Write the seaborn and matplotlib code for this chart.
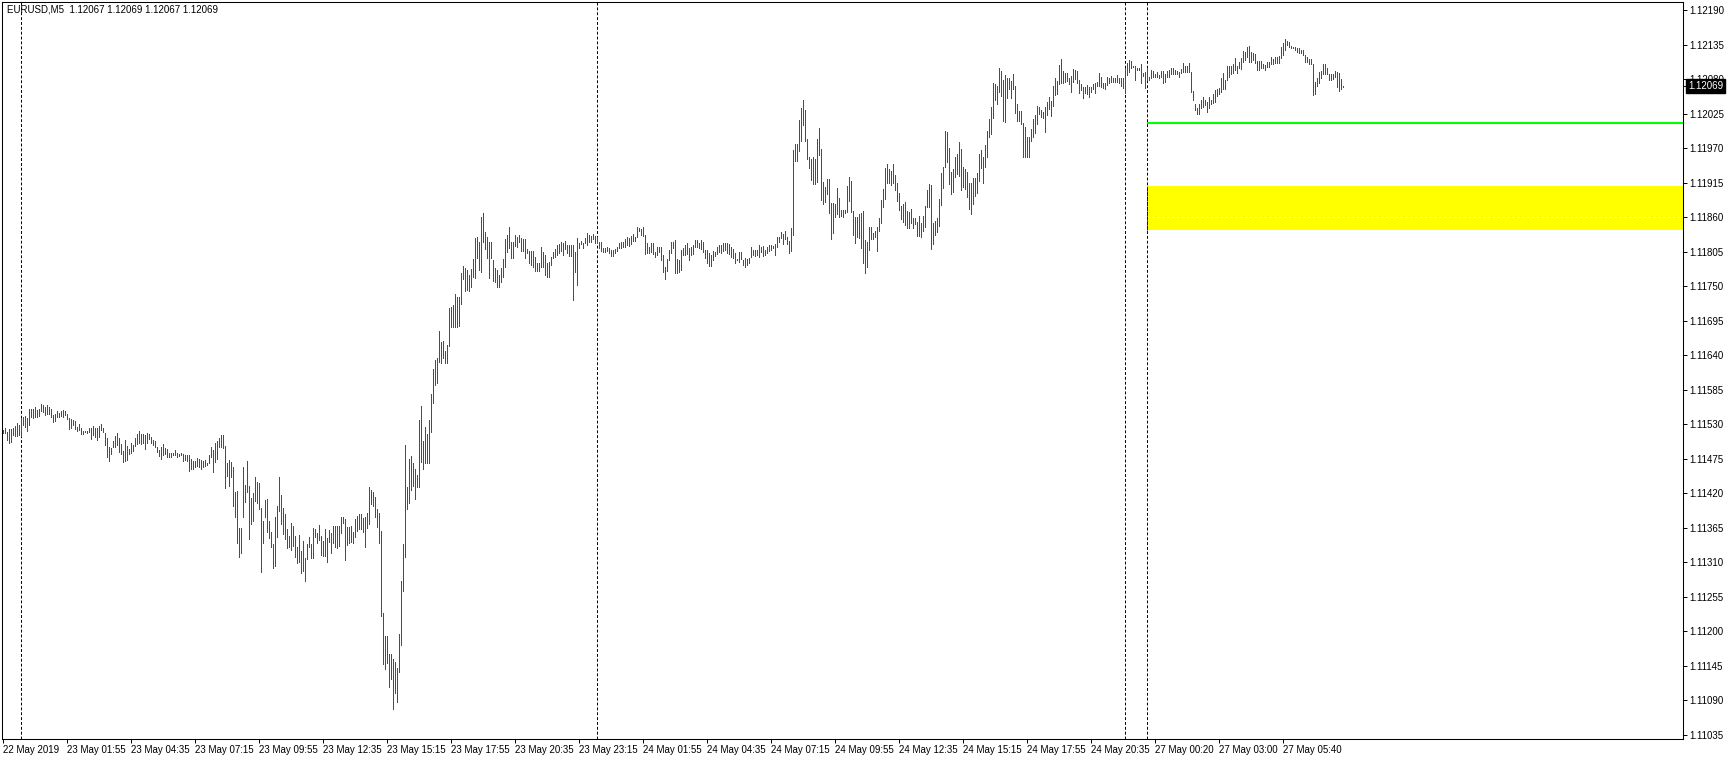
import numpy as np
import pandas as pd
import matplotlib
matplotlib.use("Agg")
import matplotlib.pyplot as plt
import seaborn as sns

# EURUSD M5 bars (high / low), one value per bar
bar_high = [
    1.11521, 1.11524, 1.11518, 1.11522, 1.11522, 1.11524, 1.11527, 1.11532, 1.11529, 1.11540,
    1.11542, 1.11543, 1.11540, 1.11554, 1.11554, 1.11554, 1.11557, 1.11553, 1.11554, 1.11562,
    1.11561, 1.11557, 1.11561, 1.11557, 1.11554, 1.11545, 1.11546, 1.11551, 1.11548, 1.11551,
    1.11553, 1.11551, 1.11546, 1.11540, 1.11538, 1.11537, 1.11535, 1.11526, 1.11530, 1.11524,
    1.11519, 1.11519, 1.11519, 1.11524, 1.11524, 1.11527, 1.11524, 1.11524, 1.11527, 1.11530,
    1.11524, 1.11516, 1.11508, 1.11494, 1.11492, 1.11503, 1.11511, 1.11516, 1.11508, 1.11499,
    1.11487, 1.11505, 1.11495, 1.11491, 1.11500, 1.11497, 1.11508, 1.11515, 1.11519, 1.11515,
    1.11515, 1.11513, 1.11516, 1.11515, 1.11510, 1.11505, 1.11503, 1.11494, 1.11489, 1.11494,
    1.11499, 1.11492, 1.11491, 1.11484, 1.11484, 1.11484, 1.11489, 1.11484, 1.11483, 1.11484,
    1.11483, 1.11481, 1.11481, 1.11481, 1.11475, 1.11471, 1.11471, 1.11476, 1.11475, 1.11473,
    1.11471, 1.11473, 1.11468, 1.11481, 1.11494, 1.11489, 1.11500, 1.11503, 1.11508, 1.11513,
    1.11513, 1.11495, 1.11468, 1.11473, 1.11470, 1.11462, 1.11422, 1.11424, 1.11365, 1.11365,
    1.11462, 1.11433, 1.11471, 1.11432, 1.11413, 1.11421, 1.11446, 1.11438, 1.11436, 1.11397,
    1.11376, 1.11409, 1.11411, 1.11376, 1.11358, 1.11339, 1.11382, 1.11400, 1.11446, 1.11417,
    1.11397, 1.11387, 1.11363, 1.11352, 1.11373, 1.11368, 1.11352, 1.11334, 1.11354, 1.11328,
    1.11344, 1.11317, 1.11339, 1.11350, 1.11339, 1.11365, 1.11363, 1.11357, 1.11370, 1.11352,
    1.11344, 1.11363, 1.11349, 1.11362, 1.11357, 1.11368, 1.11368, 1.11368, 1.11368, 1.11382,
    1.11382, 1.11379, 1.11366, 1.11366, 1.11368, 1.11358, 1.11379, 1.11384, 1.11387, 1.11387,
    1.11381, 1.11382, 1.11389, 1.11430, 1.11425, 1.11422, 1.11414, 1.11395, 1.11389, 1.11360,
    1.11229, 1.11193, 1.11193, 1.11164, 1.11164, 1.11156, 1.11151, 1.11142, 1.11196, 1.11280,
    1.11339, 1.11497, 1.11430, 1.11475, 1.11479, 1.11468, 1.11459, 1.11449, 1.11537, 1.11559,
    1.11503, 1.11526, 1.11515, 1.11537, 1.11578, 1.11618, 1.11632, 1.11636, 1.11679, 1.11661,
    1.11663, 1.11647, 1.11656, 1.11715, 1.11717, 1.11720, 1.11738, 1.11733, 1.11733, 1.11771,
    1.11782, 1.11779, 1.11776, 1.11768, 1.11777, 1.11793, 1.11827, 1.11828, 1.11820, 1.11860,
    1.11867, 1.11836, 1.11828, 1.11820, 1.11820, 1.11792, 1.11779, 1.11776, 1.11768, 1.11779,
    1.11793, 1.11825, 1.11832, 1.11844, 1.11820, 1.11820, 1.11832, 1.11828, 1.11832, 1.11827,
    1.11825, 1.11825, 1.11809, 1.11806, 1.11806, 1.11806, 1.11797, 1.11787, 1.11787, 1.11812,
    1.11804, 1.11800, 1.11787, 1.11789, 1.11797, 1.11804, 1.11809, 1.11816, 1.11817, 1.11820,
    1.11819, 1.11822, 1.11816, 1.11816, 1.11816, 1.11816, 1.11804, 1.11827, 1.11819, 1.11822,
    1.11819, 1.11827, 1.11835, 1.11832, 1.11830, 1.11833, 1.11830, 1.11828, 1.11820, 1.11820,
    1.11811, 1.11811, 1.11812, 1.11811, 1.11808, 1.11808, 1.11809, 1.11812, 1.11819, 1.11820,
    1.11820, 1.11825, 1.11828, 1.11827, 1.11830, 1.11833, 1.11828, 1.11844, 1.11843, 1.11841,
    1.11844, 1.11832, 1.11819, 1.11812, 1.11819, 1.11819, 1.11804, 1.11812, 1.11812, 1.11812,
    1.11800, 1.11781, 1.11793, 1.11808, 1.11820, 1.11820, 1.11824, 1.11793, 1.11792, 1.11808,
    1.11811, 1.11816, 1.11819, 1.11811, 1.11812, 1.11816, 1.11824, 1.11824, 1.11819, 1.11824,
    1.11820, 1.11808, 1.11808, 1.11803, 1.11800, 1.11806, 1.11804, 1.11812, 1.11816, 1.11816,
    1.11819, 1.11819, 1.11819, 1.11817, 1.11812, 1.11809, 1.11803, 1.11793, 1.11804, 1.11804,
    1.11792, 1.11795, 1.11793, 1.11795, 1.11812, 1.11808, 1.11808, 1.11808, 1.11816, 1.11812,
    1.11814, 1.11808, 1.11812, 1.11816, 1.11816, 1.11814, 1.11817, 1.11828, 1.11828, 1.11836,
    1.11833, 1.11838, 1.11828, 1.11822, 1.11843, 1.11967, 1.11977, 1.11977, 1.12015, 1.12034,
    1.12047, 1.12031, 1.11985, 1.11956, 1.11953, 1.11956, 1.11953, 1.11985, 1.12002, 1.11969,
    1.11916, 1.11908, 1.11921, 1.11921, 1.11883, 1.11883, 1.11881, 1.11906, 1.11890, 1.11871,
    1.11871, 1.11871, 1.11910, 1.11924, 1.11918, 1.11870, 1.11860, 1.11860, 1.11865, 1.11867,
    1.11870, 1.11824, 1.11820, 1.11844, 1.11844, 1.11835, 1.11838, 1.11844, 1.11859, 1.11887,
    1.11905, 1.11938, 1.11945, 1.11937, 1.11934, 1.11945, 1.11927, 1.11914, 1.11898, 1.11878,
    1.11881, 1.11884, 1.11870, 1.11868, 1.11873, 1.11859, 1.11859, 1.11852, 1.11862, 1.11851,
    1.11862, 1.11878, 1.11903, 1.11913, 1.11911, 1.11851, 1.11854, 1.11859, 1.11889, 1.11930,
    1.11940, 1.11997, 1.11996, 1.11970, 1.11932, 1.11937, 1.11956, 1.11961, 1.11980, 1.11969,
    1.11940, 1.11937, 1.11932, 1.11914, 1.11914, 1.11922, 1.11922, 1.11930, 1.11961, 1.11967,
    1.11956, 1.11975, 1.11997, 1.12016, 1.12036, 1.12074, 1.12072, 1.12069, 1.12098, 1.12093,
    1.12079, 1.12087, 1.12082, 1.12082, 1.12077, 1.12088, 1.12069, 1.12040, 1.12029, 1.12029,
    1.12010, 1.12004, 1.11988, 1.11988, 1.12000, 1.12016, 1.12023, 1.12037, 1.12036, 1.12031,
    1.12028, 1.12036, 1.12044, 1.12051, 1.12045, 1.12069, 1.12082, 1.12077, 1.12102, 1.12112,
    1.12093, 1.12090, 1.12090, 1.12082, 1.12085, 1.12096, 1.12094, 1.12093, 1.12079, 1.12072,
    1.12067, 1.12067, 1.12071, 1.12067, 1.12067, 1.12072, 1.12074, 1.12075, 1.12090, 1.12083,
    1.12074, 1.12074, 1.12083, 1.12082, 1.12085, 1.12082, 1.12082, 1.12087, 1.12082, 1.12082,
    1.12082, 1.12098, 1.12106, 1.12110, 1.12109, 1.12101, 1.12101, 1.12098, 1.12098, 1.12104,
    1.12090, 1.12091, 1.12096, 1.12083, 1.12094, 1.12093, 1.12088, 1.12091, 1.12087, 1.12093,
    1.12093, 1.12088, 1.12093, 1.12094, 1.12098, 1.12098, 1.12094, 1.12093, 1.12091, 1.12096,
    1.12106, 1.12101, 1.12101, 1.12106, 1.12091, 1.12061, 1.12040, 1.12034, 1.12040, 1.12047,
    1.12051, 1.12047, 1.12043, 1.12051, 1.12047, 1.12056, 1.12063, 1.12064, 1.12066, 1.12082,
    1.12090, 1.12079, 1.12101, 1.12101, 1.12101, 1.12104, 1.12114, 1.12101, 1.12107, 1.12114,
    1.12125, 1.12123, 1.12131, 1.12133, 1.12123, 1.12122, 1.12120, 1.12109, 1.12109, 1.12109,
    1.12104, 1.12102, 1.12107, 1.12107, 1.12115, 1.12112, 1.12115, 1.12115, 1.12117, 1.12131,
    1.12137, 1.12144, 1.12141, 1.12139, 1.12133, 1.12131, 1.12131, 1.12130, 1.12130, 1.12126,
    1.12126, 1.12118, 1.12115, 1.12112, 1.12112, 1.12104, 1.12075, 1.12082, 1.12091, 1.12093,
    1.12104, 1.12104, 1.12098, 1.12088, 1.12088, 1.12088, 1.12093, 1.12091, 1.12090, 1.12080,
    1.12069,
]
bar_low = [
    1.11516, 1.11516, 1.11505, 1.11500, 1.11502, 1.11513, 1.11511, 1.11511, 1.11513, 1.11511,
    1.11529, 1.11526, 1.11519, 1.11529, 1.11542, 1.11540, 1.11542, 1.11542, 1.11543, 1.11551,
    1.11550, 1.11545, 1.11546, 1.11546, 1.11542, 1.11534, 1.11535, 1.11542, 1.11542, 1.11543,
    1.11542, 1.11545, 1.11538, 1.11522, 1.11524, 1.11529, 1.11522, 1.11519, 1.11521, 1.11515,
    1.11515, 1.11518, 1.11516, 1.11518, 1.11507, 1.11513, 1.11510, 1.11505, 1.11510, 1.11521,
    1.11518, 1.11497, 1.11478, 1.11471, 1.11483, 1.11494, 1.11494, 1.11497, 1.11486, 1.11483,
    1.11470, 1.11471, 1.11473, 1.11483, 1.11484, 1.11487, 1.11495, 1.11499, 1.11500, 1.11499,
    1.11500, 1.11491, 1.11500, 1.11507, 1.11500, 1.11497, 1.11494, 1.11486, 1.11480, 1.11475,
    1.11481, 1.11483, 1.11478, 1.11478, 1.11478, 1.11481, 1.11481, 1.11478, 1.11480, 1.11481,
    1.11471, 1.11473, 1.11471, 1.11456, 1.11459, 1.11459, 1.11462, 1.11463, 1.11462, 1.11459,
    1.11462, 1.11463, 1.11465, 1.11468, 1.11478, 1.11454, 1.11470, 1.11475, 1.11494, 1.11494,
    1.11492, 1.11428, 1.11448, 1.11432, 1.11446, 1.11400, 1.11382, 1.11341, 1.11319, 1.11325,
    1.11382, 1.11406, 1.11422, 1.11347, 1.11371, 1.11376, 1.11408, 1.11405, 1.11395, 1.11295,
    1.11341, 1.11382, 1.11358, 1.11349, 1.11334, 1.11301, 1.11304, 1.11350, 1.11392, 1.11371,
    1.11355, 1.11347, 1.11333, 1.11334, 1.11330, 1.11336, 1.11319, 1.11309, 1.11311, 1.11293,
    1.11296, 1.11280, 1.11315, 1.11334, 1.11317, 1.11317, 1.11350, 1.11341, 1.11346, 1.11322,
    1.11320, 1.11320, 1.11311, 1.11342, 1.11325, 1.11341, 1.11334, 1.11333, 1.11336, 1.11357,
    1.11373, 1.11314, 1.11338, 1.11341, 1.11342, 1.11341, 1.11350, 1.11360, 1.11363, 1.11363,
    1.11358, 1.11334, 1.11365, 1.11371, 1.11403, 1.11400, 1.11382, 1.11366, 1.11341, 1.11225,
    1.11148, 1.11140, 1.11150, 1.11111, 1.11124, 1.11076, 1.11102, 1.11088, 1.11135, 1.11178,
    1.11264, 1.11319, 1.11395, 1.11405, 1.11425, 1.11432, 1.11411, 1.11430, 1.11430, 1.11470,
    1.11459, 1.11468, 1.11468, 1.11468, 1.11518, 1.11564, 1.11593, 1.11596, 1.11629, 1.11628,
    1.11636, 1.11628, 1.11628, 1.11655, 1.11685, 1.11685, 1.11685, 1.11685, 1.11687, 1.11722,
    1.11761, 1.11742, 1.11744, 1.11742, 1.11749, 1.11765, 1.11763, 1.11795, 1.11776, 1.11773,
    1.11820, 1.11809, 1.11795, 1.11763, 1.11795, 1.11758, 1.11757, 1.11749, 1.11749, 1.11757,
    1.11765, 1.11781, 1.11804, 1.11811, 1.11795, 1.11795, 1.11814, 1.11812, 1.11820, 1.11806,
    1.11806, 1.11795, 1.11803, 1.11787, 1.11784, 1.11781, 1.11774, 1.11774, 1.11774, 1.11781,
    1.11781, 1.11768, 1.11765, 1.11765, 1.11784, 1.11795, 1.11797, 1.11800, 1.11803, 1.11806,
    1.11800, 1.11809, 1.11803, 1.11798, 1.11798, 1.11728, 1.11773, 1.11752, 1.11811, 1.11817,
    1.11811, 1.11819, 1.11816, 1.11820, 1.11820, 1.11825, 1.11819, 1.11820, 1.11811, 1.11806,
    1.11804, 1.11804, 1.11806, 1.11803, 1.11798, 1.11798, 1.11803, 1.11806, 1.11811, 1.11811,
    1.11812, 1.11812, 1.11816, 1.11814, 1.11817, 1.11822, 1.11822, 1.11828, 1.11838, 1.11832,
    1.11830, 1.11801, 1.11803, 1.11803, 1.11804, 1.11801, 1.11797, 1.11800, 1.11804, 1.11792,
    1.11773, 1.11761, 1.11774, 1.11792, 1.11803, 1.11811, 1.11771, 1.11771, 1.11773, 1.11776,
    1.11800, 1.11800, 1.11801, 1.11792, 1.11800, 1.11801, 1.11812, 1.11812, 1.11811, 1.11809,
    1.11804, 1.11795, 1.11787, 1.11782, 1.11782, 1.11792, 1.11798, 1.11801, 1.11804, 1.11803,
    1.11806, 1.11808, 1.11803, 1.11801, 1.11797, 1.11795, 1.11787, 1.11792, 1.11789, 1.11793,
    1.11784, 1.11781, 1.11784, 1.11787, 1.11797, 1.11800, 1.11798, 1.11800, 1.11797, 1.11804,
    1.11798, 1.11800, 1.11803, 1.11806, 1.11808, 1.11811, 1.11800, 1.11812, 1.11820, 1.11827,
    1.11817, 1.11825, 1.11817, 1.11803, 1.11806, 1.11832, 1.11949, 1.11949, 1.11965, 1.11981,
    1.12007, 1.11981, 1.11953, 1.11938, 1.11919, 1.11913, 1.11913, 1.11916, 1.11959, 1.11887,
    1.11881, 1.11884, 1.11897, 1.11867, 1.11825, 1.11835, 1.11860, 1.11865, 1.11860, 1.11862,
    1.11860, 1.11867, 1.11868, 1.11886, 1.11868, 1.11832, 1.11819, 1.11828, 1.11827, 1.11811,
    1.11787, 1.11771, 1.11781, 1.11808, 1.11825, 1.11825, 1.11828, 1.11806, 1.11838, 1.11851,
    1.11876, 1.11889, 1.11914, 1.11914, 1.11911, 1.11914, 1.11903, 1.11886, 1.11871, 1.11857,
    1.11852, 1.11848, 1.11843, 1.11843, 1.11851, 1.11843, 1.11849, 1.11830, 1.11830, 1.11828,
    1.11838, 1.11844, 1.11876, 1.11876, 1.11809, 1.11817, 1.11832, 1.11836, 1.11846, 1.11879,
    1.11906, 1.11940, 1.11948, 1.11913, 1.11897, 1.11900, 1.11924, 1.11929, 1.11926, 1.11903,
    1.11908, 1.11905, 1.11892, 1.11873, 1.11865, 1.11881, 1.11894, 1.11899, 1.11918, 1.11938,
    1.11914, 1.11940, 1.11956, 1.11988, 1.11992, 1.12018, 1.12047, 1.12040, 1.12059, 1.12053,
    1.12013, 1.12012, 1.12050, 1.12064, 1.12050, 1.12064, 1.12026, 1.12013, 1.12013, 1.12008,
    1.11956, 1.11956, 1.11956, 1.11956, 1.11981, 1.11988, 1.11994, 1.12008, 1.12024, 1.12020,
    1.12018, 1.11996, 1.12023, 1.12032, 1.12021, 1.12037, 1.12055, 1.12056, 1.12072, 1.12074,
    1.12074, 1.12075, 1.12077, 1.12072, 1.12059, 1.12075, 1.12080, 1.12074, 1.12058, 1.12063,
    1.12050, 1.12058, 1.12056, 1.12051, 1.12059, 1.12064, 1.12058, 1.12069, 1.12069, 1.12067,
    1.12066, 1.12064, 1.12071, 1.12074, 1.12075, 1.12075, 1.12075, 1.12075, 1.12074, 1.12069,
    1.12066, 1.12058, 1.12087, 1.12091, 1.12098, 1.12099, 1.12079, 1.12094, 1.12094, 1.12074,
    1.12085, 1.12066, 1.12079, 1.12079, 1.12082, 1.12083, 1.12083, 1.12083, 1.12082, 1.12083,
    1.12074, 1.12075, 1.12083, 1.12083, 1.12088, 1.12088, 1.12088, 1.12088, 1.12083, 1.12090,
    1.12091, 1.12091, 1.12091, 1.12091, 1.12059, 1.12047, 1.12031, 1.12024, 1.12024, 1.12034,
    1.12036, 1.12039, 1.12028, 1.12034, 1.12040, 1.12042, 1.12043, 1.12053, 1.12056, 1.12059,
    1.12064, 1.12064, 1.12079, 1.12083, 1.12088, 1.12090, 1.12094, 1.12090, 1.12098, 1.12096,
    1.12107, 1.12110, 1.12115, 1.12107, 1.12107, 1.12110, 1.12106, 1.12094, 1.12094, 1.12098,
    1.12098, 1.12094, 1.12099, 1.12099, 1.12104, 1.12104, 1.12106, 1.12106, 1.12106, 1.12114,
    1.12118, 1.12126, 1.12134, 1.12131, 1.12130, 1.12130, 1.12126, 1.12123, 1.12122, 1.12122,
    1.12118, 1.12107, 1.12107, 1.12104, 1.12104, 1.12055, 1.12056, 1.12069, 1.12074, 1.12082,
    1.12088, 1.12088, 1.12088, 1.12079, 1.12079, 1.12080, 1.12083, 1.12067, 1.12061, 1.12064,
    1.12067,
]

header = "EURUSD,M5  1.12067 1.12069 1.12067 1.12069"
last_price = 1.12069

# bar index of each time label on the bottom scale
time_ticks = [0, 32, 64, 96, 128, 160, 192, 224, 256, 288, 320,
              352, 384, 416, 448, 480, 512, 544, 576, 608, 640]
time_labels = ["22 May 2019", "23 May 01:55", "23 May 04:35", "23 May 07:15",
               "23 May 09:55", "23 May 12:35", "23 May 15:15", "23 May 17:55",
               "23 May 20:35", "23 May 23:15", "24 May 01:55", "24 May 04:35",
               "24 May 07:15", "24 May 09:55", "24 May 12:35", "24 May 15:15",
               "24 May 17:55", "24 May 20:35", "27 May 00:20", "27 May 03:00",
               "27 May 05:40"]

price_ticks = [1.12190, 1.12135, 1.12080, 1.12025, 1.11970, 1.11915, 1.11860,
               1.11805, 1.11750, 1.11695, 1.11640, 1.11585, 1.11530, 1.11475,
               1.11420, 1.11365, 1.11310, 1.11255, 1.11200, 1.11145, 1.11090,
               1.11035]

# period separators (bar index)
separators = [9, 297, 561, 572]

# objects drawn on the chart
level_start = 572
green_level = 1.12010
zone_top = 1.11910
zone_bottom = 1.11840
zone_mid = 1.11860

bars = pd.DataFrame({"bar": np.arange(len(bar_high)), "high": bar_high, "low": bar_low})
long = bars.melt(id_vars="bar", value_vars=["low", "high"], value_name="price")

sns.set_theme(style="white")
plt.rcParams["font.family"] = ["Liberation Sans", "DejaVu Sans"]

W, H = 1729, 760
fig = plt.figure(figsize=(W / 100, H / 100), dpi=100)
fig.patch.set_facecolor("white")
ax = fig.add_axes([2 / W, 21 / H, 1681 / W, 737 / H])
ax.set_facecolor("white")

x_right = 840
ax.fill_between([level_start, x_right], zone_bottom, zone_top, color="#ffff00", lw=0, zorder=1)
ax.hlines(zone_mid, level_start, x_right, color="white", lw=0.7, linestyles=(0, (3, 2)), zorder=2)
ax.hlines(green_level, level_start, x_right, color="#00ff00", lw=1.5, zorder=2)

for s in separators:
    ax.axvline(s, color="black", lw=0.7, linestyle=(0, (3, 2)), zorder=2)
ax.vlines(level_start, zone_bottom, zone_top, color="#0000ff", lw=0.7,
          linestyles=(0, (3, 2)), zorder=3)

sns.lineplot(data=long, x="bar", y="price", units="bar", estimator=None, sort=False,
             color="#ff0000", lw=0.68, antialiased=False, solid_capstyle="butt",
             legend=False, ax=ax, zorder=4)

ax.set_xlim(-0.5, x_right)
ax.set_ylim(1.1102846, 1.1220275)
ax.set_xlabel("")
ax.set_ylabel("")
ax.grid(False)

ax.yaxis.tick_right()
ax.set_yticks(price_ticks)
ax.set_yticklabels([f"{p:.5f}" for p in price_ticks])
ax.set_yticks([last_price], minor=True)
ax.tick_params(axis="y", which="both", direction="out", length=3, width=0.7,
               pad=1.5, labelsize=7, colors="black", right=True, left=False)

ax.set_xticks(time_ticks)
ax.set_xticklabels(time_labels, ha="left")
ax.tick_params(axis="x", direction="out", length=3, width=0.7, pad=1,
               labelsize=7, colors="black", bottom=True)

for sp in ax.spines.values():
    sp.set_visible(True)
    sp.set_color("black")
    sp.set_linewidth(0.75)

ax.annotate(f"{last_price:.5f}", xy=(1, last_price), xycoords=("axes fraction", "data"),
            xytext=(3.6, 0), textcoords="offset points", ha="left", va="center",
            fontsize=7, color="white", annotation_clip=False, zorder=10,
            bbox=dict(boxstyle="square,pad=0.2", fc="black", ec="black"))

fig.text(7 / W, 1 - 9 / H, header, fontsize=7, color="black", ha="left", va="center")

fig.savefig("out.png", dpi=100)
